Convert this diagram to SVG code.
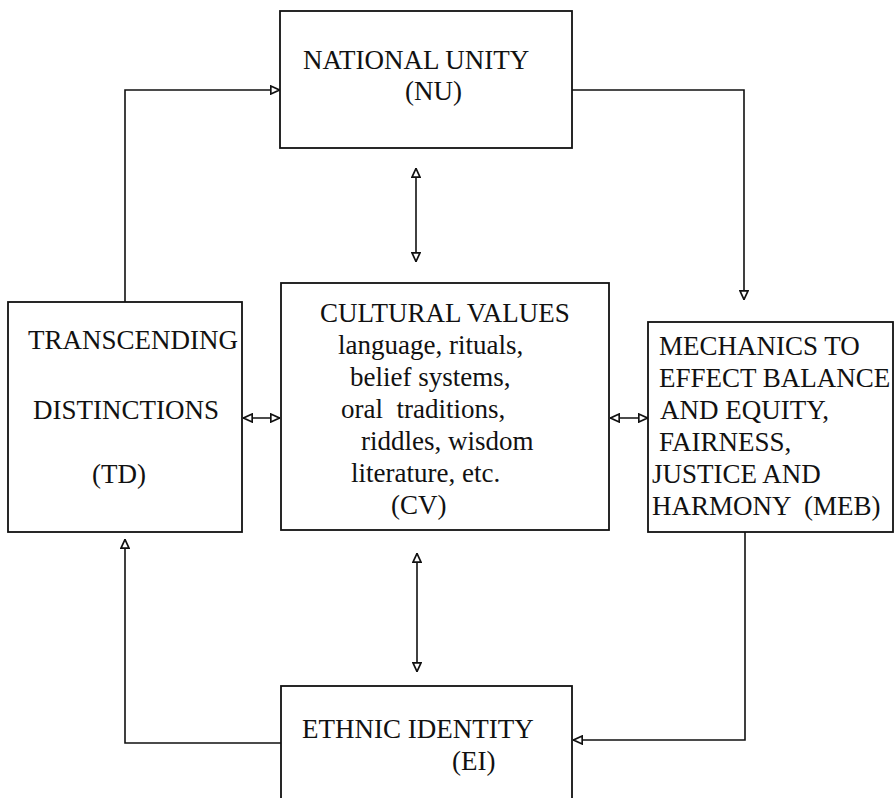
<svg xmlns="http://www.w3.org/2000/svg" width="894" height="798" viewBox="0 0 894 798">
<style>
.box{fill:#fff;stroke:#111;stroke-width:1.8}
.t{font-family:"Liberation Serif","Times New Roman",serif;font-size:27px;fill:#111;white-space:pre}
.c{fill:none;stroke:#111;stroke-width:1.6}
</style>
<defs>
<marker id="ah" viewBox="0 0 10 10" refX="10" refY="5" markerWidth="10" markerHeight="10" markerUnits="userSpaceOnUse" orient="auto-start-reverse">
<path d="M0.8,1 L9.5,5 L0.8,9 Z" fill="#fff" stroke="#111" stroke-width="1.7"/>
</marker>
</defs>
<rect width="894" height="798" fill="#fff"/>
<g id="connectors">
<path class="c" d="M125,302 V90 H280" marker-end="url(#ah)"/>
<path class="c" d="M572,90 H744 V300" marker-end="url(#ah)"/>
<path class="c" d="M416,168 V262" marker-start="url(#ah)" marker-end="url(#ah)"/>
<path class="c" d="M243,418 H280" marker-start="url(#ah)" marker-end="url(#ah)"/>
<path class="c" d="M610,418 H648" marker-start="url(#ah)" marker-end="url(#ah)"/>
<path class="c" d="M745,532 V740 H573" marker-end="url(#ah)"/>
<path class="c" d="M417,553 V672" marker-start="url(#ah)" marker-end="url(#ah)"/>
<path class="c" d="M281,743 H125 V539" marker-end="url(#ah)"/>
</g>
<g id="NU">
<rect class="box" x="280" y="11" width="292" height="137"/>
<text class="t" x="303" y="69">NATIONAL UNITY</text>
<text class="t" x="405" y="100">(NU)</text>
</g>
<g id="TD">
<rect class="box" x="8" y="302" width="234" height="230"/>
<text class="t" x="28" y="349">TRANSCENDING</text>
<text class="t" x="33" y="419">DISTINCTIONS</text>
<text class="t" x="92" y="483">(TD)</text>
</g>
<g id="CV">
<rect class="box" x="281" y="283" width="328" height="247"/>
<text class="t" x="320" y="322">CULTURAL VALUES</text>
<text class="t" x="338" y="354">language, rituals,</text>
<text class="t" x="350" y="386">belief systems,</text>
<text class="t" x="341" y="418">oral  traditions,</text>
<text class="t" x="361" y="450">riddles, wisdom</text>
<text class="t" x="351" y="482">literature, etc.</text>
<text class="t" x="391" y="514">(CV)</text>
</g>
<g id="MEB">
<rect class="box" x="648" y="322" width="245" height="210"/>
<text class="t" x="659" y="355">MECHANICS TO</text>
<text class="t" x="659" y="387">EFFECT BALANCE</text>
<text class="t" x="660" y="419">AND EQUITY,</text>
<text class="t" x="659" y="451">FAIRNESS,</text>
<text class="t" x="652" y="483">JUSTICE AND</text>
<text class="t" x="652" y="515">HARMONY  (MEB)</text>
</g>
<g id="EI">
<rect class="box" x="281" y="686" width="291" height="130"/>
<text class="t" x="302" y="738">ETHNIC IDENTITY</text>
<text class="t" x="452" y="770">(EI)</text>
</g>
</svg>
